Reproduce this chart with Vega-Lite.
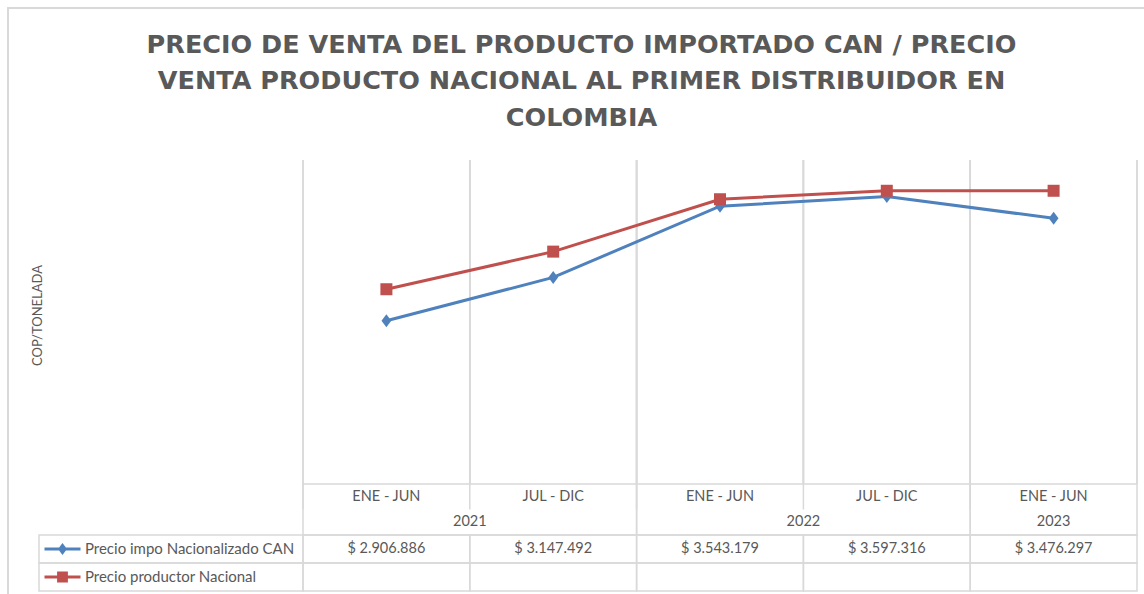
{
  "$schema": "https://vega.github.io/schema/vega-lite/v6.json",
  "width": 1137,
  "height": 587,
  "autosize": {"type": "none"},
  "padding": {"left": 8, "top": 8, "right": -1, "bottom": -1},
  "background": "white",
  "config": {
    "view": {"stroke": "#d9d9d9", "strokeWidth": 2},
    "font": "Lato"
  },
  "title": {
    "text": ["PRECIO DE VENTA DEL PRODUCTO IMPORTADO CAN / PRECIO", "VENTA PRODUCTO NACIONAL AL PRIMER DISTRIBUIDOR EN", "COLOMBIA"],
    "anchor": "middle",
    "frame": "group",
    "offset": 0,
    "dx": 5,
    "dy": 123,
    "font": "DejaVu Sans",
    "fontSize": 25.5,
    "fontWeight": "bold",
    "color": "#595959",
    "lineHeight": 36.5
  },
  "datasets": {
    "periodos": [
      {"clave": "ENE - JUN 2021", "periodo": "ENE - JUN", "anio": "2021"},
      {"clave": "JUL - DIC 2021", "periodo": "JUL - DIC", "anio": "2021"},
      {"clave": "ENE - JUN 2022", "periodo": "ENE - JUN", "anio": "2022"},
      {"clave": "JUL - DIC 2022", "periodo": "JUL - DIC", "anio": "2022"},
      {"clave": "ENE - JUN 2023", "periodo": "ENE - JUN", "anio": "2023"}
    ],
    "anios": [
      {"anio": "2021", "desde": "ENE - JUN 2021", "hasta": "JUL - DIC 2021"},
      {"anio": "2022", "desde": "ENE - JUN 2022", "hasta": "JUL - DIC 2022"},
      {"anio": "2023", "desde": "ENE - JUN 2023", "hasta": "ENE - JUN 2023"}
    ],
    "series": [
      {"serie": "Precio impo Nacionalizado CAN"},
      {"serie": "Precio productor Nacional"}
    ],
    "puntos": [
      {"clave": "ENE - JUN 2021", "serie": "Precio impo Nacionalizado CAN", "valor": 2906886, "texto": "$ 2.906.886"},
      {"clave": "JUL - DIC 2021", "serie": "Precio impo Nacionalizado CAN", "valor": 3147492, "texto": "$ 3.147.492"},
      {"clave": "ENE - JUN 2022", "serie": "Precio impo Nacionalizado CAN", "valor": 3543179, "texto": "$ 3.543.179"},
      {"clave": "JUL - DIC 2022", "serie": "Precio impo Nacionalizado CAN", "valor": 3597316, "texto": "$ 3.597.316"},
      {"clave": "ENE - JUN 2023", "serie": "Precio impo Nacionalizado CAN", "valor": 3476297, "texto": "$ 3.476.297"},
      {"clave": "ENE - JUN 2021", "serie": "Precio productor Nacional", "valor": 3082000, "texto": ""},
      {"clave": "JUL - DIC 2021", "serie": "Precio productor Nacional", "valor": 3291000, "texto": ""},
      {"clave": "ENE - JUN 2022", "serie": "Precio productor Nacional", "valor": 3582000, "texto": ""},
      {"clave": "JUL - DIC 2022", "serie": "Precio productor Nacional", "valor": 3629000, "texto": ""},
      {"clave": "ENE - JUN 2023", "serie": "Precio productor Nacional", "valor": 3629000, "texto": ""}
    ]
  },
  "layer": [
    {
      "data": {"name": "puntos"},
      "layer": [
        {
          "mark": {"type": "rule", "color": "#d9d9d9", "strokeWidth": 1.5},
          "encoding": {
            "x": {"field": "clave", "type": "nominal", "bandPosition": 0, "axis": null,
                  "scale": {"type": "band", "domain": ["ENE - JUN 2021", "JUL - DIC 2021", "ENE - JUN 2022", "JUL - DIC 2022", "ENE - JUN 2023"], "range": [295, 1129], "paddingInner": 0, "paddingOuter": 0}},
            "y": {"datum": 3800000, "type": "quantitative",
                  "axis": {"title": "COP/TONELADA", "labels": false, "ticks": false, "domain": false, "grid": false, "offset": -36, "titlePadding": 0, "titleY": 307, "titleFont": "Lato", "titleFontSize": 13, "titleFontWeight": "normal", "titleColor": "#595959"},
                  "scale": {"domain": [2000000, 3800000], "range": [476, 152], "zero": false, "nice": false}},
            "y2": {"datum": 2000000}
          }
        },
        {
          "mark": {"type": "rule", "color": "#d9d9d9", "strokeWidth": 1.5},
          "encoding": {
            "x": {"field": "clave", "type": "nominal", "bandPosition": 1, "axis": null},
            "y": {"datum": 3800000, "type": "quantitative",
                  "axis": {"title": "COP/TONELADA", "labels": false, "ticks": false, "domain": false, "grid": false, "offset": -36, "titlePadding": 0, "titleY": 307, "titleFont": "Lato", "titleFontSize": 13, "titleFontWeight": "normal", "titleColor": "#595959"}},
            "y2": {"datum": 2000000}
          }
        },
        {
          "mark": {"type": "line", "strokeWidth": 3},
          "encoding": {
            "x": {"field": "clave", "type": "nominal", "axis": null},
            "y": {"field": "valor", "type": "quantitative",
                  "axis": {"title": "COP/TONELADA", "labels": false, "ticks": false, "domain": false, "grid": false, "offset": -36, "titlePadding": 0, "titleY": 307, "titleFont": "Lato", "titleFontSize": 13, "titleFontWeight": "normal", "titleColor": "#595959"}},
            "color": {"field": "serie", "type": "nominal", "legend": null,
                      "scale": {"domain": ["Precio impo Nacionalizado CAN", "Precio productor Nacional"], "range": ["#4F81BD", "#C0504D"]}}
          }
        },
        {
          "mark": {"type": "point", "filled": true, "opacity": 1},
          "encoding": {
            "x": {"field": "clave", "type": "nominal", "axis": null},
            "y": {"field": "valor", "type": "quantitative",
                  "axis": {"title": "COP/TONELADA", "labels": false, "ticks": false, "domain": false, "grid": false, "offset": -36, "titlePadding": 0, "titleY": 307, "titleFont": "Lato", "titleFontSize": 13, "titleFontWeight": "normal", "titleColor": "#595959"}},
            "color": {"field": "serie", "type": "nominal", "legend": null},
            "shape": {"field": "serie", "type": "nominal", "legend": null,
                      "scale": {"domain": ["Precio impo Nacionalizado CAN", "Precio productor Nacional"], "range": ["M0,-1L0.75,0L0,1L-0.75,0Z", "square"]}},
            "size": {"field": "serie", "type": "nominal", "legend": null,
                     "scale": {"domain": ["Precio impo Nacionalizado CAN", "Precio productor Nacional"], "range": [169, 144]}}
          }
        }
      ]
    },
    {
      "layer": [
        {
          "data": {"name": "anios"},
          "mark": {"type": "rect", "fill": "transparent", "stroke": "#d9d9d9", "strokeWidth": 1.5},
          "encoding": {
            "x": {"field": "desde", "type": "nominal", "bandPosition": 0, "axis": null,
                  "scale": {"type": "band", "domain": ["ENE - JUN 2021", "JUL - DIC 2021", "ENE - JUN 2022", "JUL - DIC 2022", "ENE - JUN 2023"], "range": [295, 1129], "paddingInner": 0, "paddingOuter": 0}},
            "x2": {"field": "hasta", "bandPosition": 1},
            "y": {"datum": "periodo", "type": "nominal", "bandPosition": 0, "axis": null,
                  "scale": {"type": "band", "domain": ["periodo", "anio"], "range": [476, 527], "paddingInner": 0, "paddingOuter": 0}},
            "y2": {"datum": "anio", "bandPosition": 1}
          }
        },
        {
          "data": {"name": "periodos"},
          "mark": {"type": "rule", "color": "#d9d9d9", "strokeWidth": 1.5},
          "encoding": {
            "x": {"field": "clave", "type": "nominal", "bandPosition": 0, "axis": null},
            "y": {"datum": "periodo", "type": "nominal", "bandPosition": 0, "axis": null},
            "y2": {"datum": "anio", "bandPosition": 0}
          }
        },
        {
          "data": {"name": "periodos"},
          "mark": {"type": "text", "font": "Lato", "fontSize": 14.5, "color": "#595959"},
          "encoding": {
            "x": {"field": "clave", "type": "nominal", "axis": null},
            "y": {"datum": "periodo", "type": "nominal", "axis": null},
            "text": {"field": "periodo"}
          }
        },
        {
          "data": {"name": "anios"},
          "transform": [{"filter": "datum.desde !== datum.hasta"}],
          "mark": {"type": "text", "font": "Lato", "fontSize": 14.5, "color": "#595959"},
          "encoding": {
            "x": {"field": "desde", "type": "nominal", "bandPosition": 1, "axis": null},
            "y": {"datum": "anio", "type": "nominal", "axis": null},
            "text": {"field": "anio"}
          }
        },
        {
          "data": {"name": "anios"},
          "transform": [{"filter": "datum.desde === datum.hasta"}],
          "mark": {"type": "text", "font": "Lato", "fontSize": 14.5, "color": "#595959"},
          "encoding": {
            "x": {"field": "desde", "type": "nominal", "axis": null},
            "y": {"datum": "anio", "type": "nominal", "axis": null},
            "text": {"field": "anio"}
          }
        }
      ]
    },
    {
      "data": {"name": "puntos"},
      "layer": [
        {
          "mark": {"type": "rect", "fill": "transparent", "stroke": "#d9d9d9", "strokeWidth": 1.5},
          "encoding": {
            "x": {"field": "clave", "type": "nominal", "axis": null,
                  "scale": {"type": "band", "domain": ["ENE - JUN 2021", "JUL - DIC 2021", "ENE - JUN 2022", "JUL - DIC 2022", "ENE - JUN 2023"], "range": [295, 1129], "paddingInner": 0, "paddingOuter": 0}},
            "y": {"field": "serie", "type": "nominal", "axis": null,
                  "scale": {"type": "band", "domain": ["Precio impo Nacionalizado CAN", "Precio productor Nacional"], "range": [527, 583], "paddingInner": 0, "paddingOuter": 0}}
          }
        },
        {
          "mark": {"type": "text", "font": "Lato", "fontSize": 14.5, "color": "#595959"},
          "encoding": {
            "x": {"field": "clave", "type": "nominal", "axis": null},
            "y": {"field": "serie", "type": "nominal", "axis": null},
            "text": {"field": "texto"}
          }
        }
      ]
    },
    {
      "data": {"name": "series"},
      "layer": [
        {
          "mark": {"type": "rect", "fill": "transparent", "stroke": "#d9d9d9", "strokeWidth": 1.5},
          "encoding": {
            "x": {"datum": "leyenda", "type": "nominal", "axis": null,
                  "scale": {"type": "band", "domain": ["leyenda"], "range": [31, 295], "paddingInner": 0, "paddingOuter": 0}},
            "y": {"field": "serie", "type": "nominal", "axis": null,
                  "scale": {"type": "band", "domain": ["Precio impo Nacionalizado CAN", "Precio productor Nacional"], "range": [527, 583], "paddingInner": 0, "paddingOuter": 0}}
          }
        },
        {
          "mark": {"type": "point", "filled": true, "opacity": 1},
          "encoding": {
            "x": {"datum": "leyenda", "type": "nominal", "bandPosition": 0.089, "axis": null},
            "y": {"field": "serie", "type": "nominal", "axis": null},
            "color": {"field": "serie", "type": "nominal", "legend": null,
                      "scale": {"domain": ["Precio impo Nacionalizado CAN", "Precio productor Nacional"], "range": ["#4F81BD", "#C0504D"]}},
            "shape": {"field": "serie", "type": "nominal", "legend": null,
                      "scale": {"domain": ["Precio impo Nacionalizado CAN", "Precio productor Nacional"], "range": ["M-1,-0.083H1V0.083H-1Z M0,-0.333L0.25,0L0,0.333L-0.25,0Z", "M-1,-0.083H1V0.083H-1Z M-0.3,-0.3H0.3V0.3H-0.3Z"]}},
            "size": {"value": 1296}
          }
        },
        {
          "mark": {"type": "text", "font": "Lato", "fontSize": 15, "color": "#595959", "align": "left"},
          "encoding": {
            "x": {"datum": "leyenda", "type": "nominal", "bandPosition": 0.174, "axis": null},
            "y": {"field": "serie", "type": "nominal", "axis": null},
            "text": {"field": "serie"}
          }
        }
      ]
    }
  ],
  "resolve": {
    "scale": {"x": "independent", "y": "independent", "color": "independent", "shape": "independent", "size": "independent"},
    "axis": {"x": "independent", "y": "independent"}
  }
}
